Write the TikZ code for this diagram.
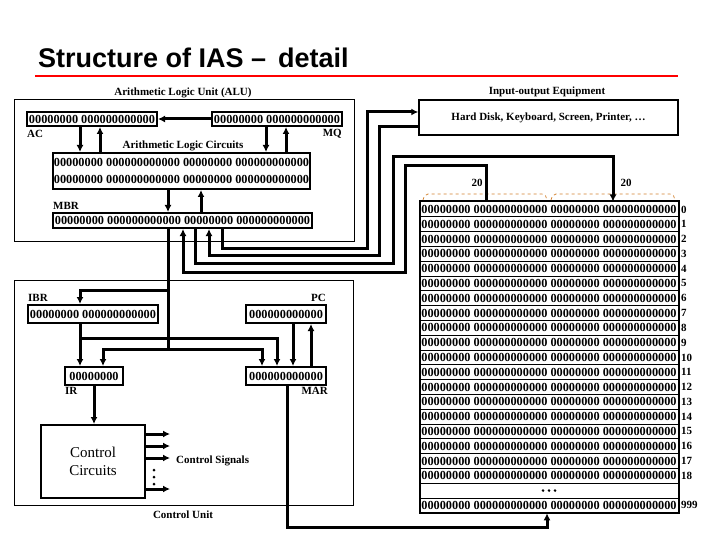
\documentclass[tikz,border=0pt]{standalone}
\usepackage{fontspec}
\setmainfont{Liberation Serif}
\newfontfamily\titlefont{Liberation Sans}
\usetikzlibrary{arrows.meta}
\begin{document}
\begin{tikzpicture}[x=1pt,y=-1pt,
  reg/.style={draw,line width=2pt,inner sep=0pt,font=\bfseries\fontsize{12.3}{13}\selectfont},
  box/.style={draw,line width=1pt,inner sep=0pt},
  lab/.style={font=\bfseries\fontsize{11}{12}\selectfont,inner sep=0pt},
  w/.style={line width=3pt},
  a/.style={w,-{Latex[length=7pt,width=7pt]}},
  row/.style={draw,line width=1pt,minimum width=258pt,minimum height=14.8pt,inner sep=0pt,font=\bfseries\fontsize{12.3}{13}\selectfont}]
\useasboundingbox (0,0) rectangle (720,540);
\node[anchor=west,inner sep=0pt,font=\titlefont\bfseries\fontsize{27}{29}\selectfont] (title) at (38,58) {Structure of IAS –\, detail};
\draw[red,line width=2.5pt] (35,76) -- (678,76);
% ALU
\node[box,minimum width=340pt,minimum height=141pt] (alu) at (184,170.5) {};
\node[lab] (alul) at (183,93) {Arithmetic Logic Unit (ALU)};
\node[reg,minimum width=130pt,minimum height=14pt] (AC) at (92,119) {00000000 000000000000};
\node[reg,minimum width=130pt,minimum height=14pt] (MQ) at (277,119) {00000000 000000000000};
\node[lab,anchor=west] (acl) at (27,134) {AC};
\node[lab,anchor=east] (mql) at (342,134) {MQ};
\node[lab] (alcl) at (183,146) {Arithmetic Logic Circuits};
\node[reg,minimum width=257pt,minimum height=36pt,align=center] (ALC) at (181.5,171) {00000000 000000000000 00000000 000000000000\\[4pt]00000000 000000000000 00000000 000000000000};
\node[lab,anchor=west] (mbrl) at (53,206) {MBR};
\node[reg,minimum width=259pt,minimum height=15pt] (MBR) at (182.5,220.5) {00000000 000000000000 00000000 000000000000};
\draw[a] (MQ.west) -- (AC.east);
\draw[a] ([xshift=-12]AC.south) -- ([xshift=-12]AC.south |- ALC.north);
\draw[a] ([xshift=8]AC.south |- ALC.north) -- ([xshift=8]AC.south);
\draw[a] ([xshift=-11]MQ.south) -- ([xshift=-11]MQ.south |- ALC.north);
\draw[a] ([xshift=9]MQ.south |- ALC.north) -- ([xshift=9]MQ.south);
\draw[a] ([xshift=-13.5]ALC.south) -- ([xshift=-13.5]ALC.south |- MBR.north);
\draw[a] ([xshift=19.5]ALC.south |- MBR.north) -- ([xshift=19.5]ALC.south);
% IO
\node[lab] (iol) at (547,92) {Input-output Equipment};
\node[box,line width=1.5pt,minimum width=259pt,minimum height=35pt,font=\bfseries\fontsize{11}{12}\selectfont] (IO) at (548.5,117.5) {Hard Disk, Keyboard, Screen, Printer, \dots};
% Memory
\foreach \i/\t in {0/0,1/1,2/2,3/3,4/4,5/5,6/6,7/7,8/8,9/9,10/10,11/11,12/12,13/13,14/14,15/15,16/16,17/17,18/18,20/999}{
  \node[row] (m\i) at (549,{202+14.8*(\i+0.5)}) {00000000 000000000000 00000000 000000000000};
  \node[lab,anchor=west] (ml\i) at (681,{202+14.8*(\i+0.5)}) {\t};
}
\node[row] (m19) at (549,{202+14.8*19.5}) {};
\foreach \dx in {-6,0,6} \fill (549+\dx,{202+14.8*19.5}) circle (1.4pt);
\draw[line width=2pt] (m0.north west) rectangle (m20.south east);
\draw[dashed,brown!70!orange,line width=0.7pt] (423,200) to[out=90,in=180] (428,194) -- (542,194) to[out=0,in=90] (547,200);
\draw[dashed,brown!70!orange,line width=0.7pt] (551,200) to[out=90,in=180] (556,194) -- (670,194) to[out=0,in=90] (675,200);
\node[lab] (n1) at (477,183) {20};
\node[lab] (n2) at (626,183) {20};
% MBR wires
\draw[a] ([xshift=39.5]MBR.south) -- (222,248) -- (367,248) -- (367,112) -- (IO.west |- 0,112);
\draw[a] (IO.west |- 0,127) -- (379,127) -- (379,255) -- (209,255) -- ([xshift=26.5]MBR.south);
\draw[a] ([xshift=12.5]MBR.south) -- (195,263) -- (393,263) -- (393,157) -- (613,157) -- (m0.north -| 613,0);
\draw[a] (m0.north -| 486,0) -- (486,166) -- (405,166) -- (405,272) -- (183,272) -- ([xshift=0.5]MBR.south);
% Control unit
\node[box,minimum width=339pt,minimum height=225pt] (CU) at (183.5,392.5) {};
\node[lab] (cul) at (183,515) {Control Unit};
\node[reg,minimum width=130pt,minimum height=18pt] (IBR) at (93,314) {00000000 000000000000};
\node[reg,minimum width=80pt,minimum height=18pt] (PC) at (286,314) {000000000000};
\node[reg,minimum width=58pt,minimum height=18pt] (IR) at (94,376) {00000000};
\node[reg,minimum width=80pt,minimum height=18pt] (MAR) at (286,376) {000000000000};
\node[lab,anchor=west] (ibrl) at (28,298) {IBR};
\node[lab,anchor=east] (pcl) at (326,298) {PC};
\node[lab,anchor=west] (irl) at (65,391) {IR};
\node[lab,anchor=east] (marl) at (328,391) {MAR};
\node[box,line width=2pt,minimum width=104pt,minimum height=73pt,align=center,font=\fontsize{15}{18}\selectfont] (CC) at (93,461.5) {Control\\Circuits};
\coordinate (bus) at (168,349);
\draw[w] ([xshift=-14.5]MBR.south) -- (bus);
\draw[a] (168,290) -- (80,290) -- (IBR.north -| 80,0);
\draw[a] (bus) -- (103,349) -- (IR.north -| 103,0);
\draw[a] (bus) -- (262,349) -- (MAR.north -| 262,0);
\draw[a] (IBR.south -| 80,0) -- (IR.north -| 80,0);
\draw[a] (80,338) -- (277,338) -- (MAR.north -| 277,0);
\draw[a] (PC.south -| 293,0) -- (MAR.north -| 293,0);
\draw[a] (MAR.north -| 311,0) -- (PC.south -| 311,0);
\draw[a] (IR.south) -- (CC.north -| IR.south);
\foreach \y in {434,446,458,489} \draw[a] (CC.east |- 0,\y) -- (170,\y);
\foreach \y in {470,477,484} \fill (154,\y) circle (1.5pt);
\node[lab,anchor=west] (csl) at (176,461) {Control Signals};
\draw[a] (MAR.south -| 287,0) -- (287,527) -- (547,527) -- (m20.south -| 547,0);
\end{tikzpicture}
\end{document}
